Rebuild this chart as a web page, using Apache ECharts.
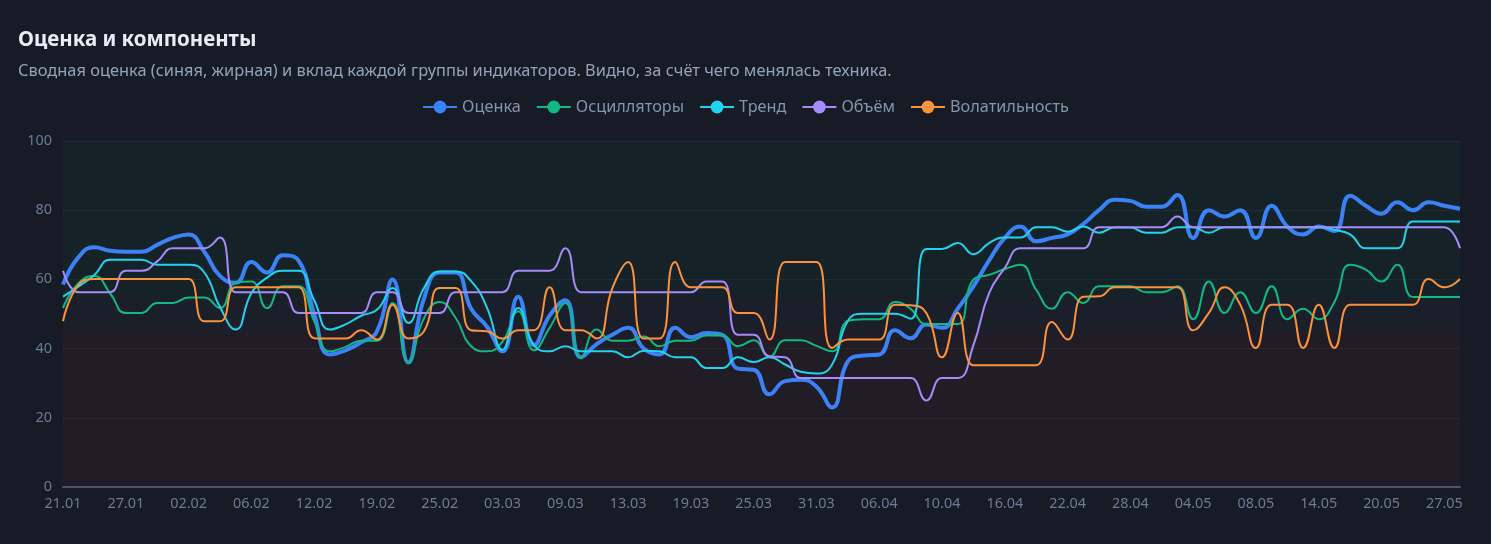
<!DOCTYPE html>
<html><head><meta charset="utf-8">
<script src="https://cdn.jsdelivr.net/npm/echarts@6/dist/echarts.min.js"></script>
<style>html,body{margin:0;padding:0;background:#161b25;}#c{width:1491px;height:544px;}</style>
</head><body><div id="c"></div>
<script>
var dates = ["21.01","22.01","23.01","26.01","27.01","28.01","29.01","30.01","02.02","03.02","04.02","05.02","06.02","09.02","10.02","11.02","12.02","13.02","16.02","17.02","19.02","20.02","23.02","24.02","25.02","26.02","27.02","02.03","03.03","04.03","05.03","06.03","09.03","10.03","11.03","12.03","13.03","16.03","17.03","18.03","19.03","20.03","23.03","24.03","25.03","26.03","27.03","30.03","31.03","01.04","02.04","03.04","06.04","07.04","08.04","09.04","10.04","13.04","14.04","15.04","16.04","17.04","20.04","21.04","22.04","23.04","24.04","27.04","28.04","29.04","30.04","01.05","04.05","05.05","06.05","07.05","08.05","11.05","12.05","13.05","14.05","15.05","18.05","19.05","20.05","21.05","22.05","25.05","27.05","28.05"];
var score = [58.5,66.5,69.3,68.3,68,68,70,72,73,68,61,59,65,62,67,65.5,50,38.3,39.5,41.8,45,60,36,54.5,62,62,51.5,46.4,39.2,55,41,49.5,54,37.5,41.3,44,46,40,38.3,46,43.3,44.5,44,34.2,33.9,26.8,30.6,31,29,23,36.3,38,38.3,45.3,43,47,46,51.5,58,65.5,72,75.3,71,72,73,76,80,83,82.7,81,81,84.4,72,80,78.2,80,72,81.3,75.3,73,75.3,74,84.2,81.3,79,82.3,80,82.3,81.3,80.4];
var osc = [51.7,59,61,56,50.3,50.3,53.2,53.2,54.8,54.8,51.7,59,59.4,51.7,58,58,48,39.2,40.5,42.3,42.3,53.2,35.9,48.8,53.5,49,40.7,39.2,42,50.8,39.5,46,53.2,37.3,45.5,42.3,42.3,43.5,40.7,42.3,42.3,43.8,43.8,40.7,42.4,37.6,42.4,42.4,40.8,39.2,48,48.5,48.5,53.5,51.5,47.1,47.1,47.1,59.9,61.3,63,64.2,57,51.5,56.3,53.2,58,58,58,56.3,56.3,58,48.5,59.4,50.3,56.3,50.3,58,48.5,51.5,48.5,53.5,64.2,62.8,59.4,64.2,54.9,54.9,54.9,54.9];
var trend = [55,58,61.3,65.7,65.7,65.7,64.2,64.2,64.2,62,52,45.5,56,60.5,62.5,62.5,54,45.5,47,49.5,51.2,57.5,47.4,57.5,62.3,62.3,59.5,52,39.7,51.7,41,39.2,40.7,39.2,39.2,39.2,37.5,39.4,39.2,37.5,37.5,34.4,34.4,37.5,36.1,37.5,35.4,33.3,32.8,35.4,48,50.1,50.1,50.1,48.6,68.8,68.8,70.5,67.3,70.5,72.1,72.1,75.1,75.1,73.8,75.3,73.5,75,75,73.5,73.5,75.1,75.1,73.5,75.1,75.1,75.1,75.1,75.1,75.1,75.1,74.3,73,69,69,69,76.7,76.7,76.7,76.7];
var volume = [62.5,56.3,56.3,56.3,62.5,62.5,65.2,69,69,69,72.1,56.3,56.3,56.3,56.3,50.3,50.3,50.3,50.3,50.3,56.3,56.3,50.3,50.3,50.3,56.3,56.3,56.3,56.3,62.5,62.5,62.5,69,56.3,56.3,56.3,56.3,56.3,56.3,56.3,56.3,59.4,59.4,44,44,37.8,37.5,31.5,31.5,31.5,31.5,31.5,31.5,31.5,31.5,25,31.5,31.5,41,56,63.3,69,69,69,69,69,75.1,75.1,75.1,75.1,75.1,78.2,75.1,75.1,75.1,75.1,75.1,75.1,75.1,75.1,75.1,75.1,75.1,75.1,75.1,75.1,75.1,75.1,75.1,69];
var volat = [47.9,58.5,60.1,60.1,60.1,60.1,60.1,60.1,60.1,47.9,47.9,57.7,57.7,57.7,57.7,57.7,43,42.9,42.9,45.3,42.6,52.7,42.9,45,57.5,57.5,45.3,45,42.9,45.3,45.3,57.7,45.3,45.3,42.9,57.5,65,42.9,42.9,65,57.7,57.7,57.7,50.3,50.3,42.6,65,65,65,40.2,42.6,42.6,42.6,52.7,52.5,50.3,37.5,50.3,35.2,35.2,35.2,35.2,35.2,47.7,42.6,55,55.1,57.7,57.7,57.7,57.7,57.7,45.3,50.3,57.7,52.7,40.2,52.7,52.7,40.2,52.7,40.2,52.7,52.7,52.7,52.7,52.7,60.1,57.7,60.1];
var seriesNames = ["Оценка","Осцилляторы","Тренд","Объём","Волатильность"];
var colors = ["#3b82f6","#10b981","#22d3ee","#a78bfa","#fb923c"];
var yTicks = {min:0, max:100, interval:20};

var FONT = '"Noto Sans", sans-serif';
var chart = echarts.init(document.getElementById('c'), null, {renderer:'canvas'});
var values = [score, osc, trend, volume, volat];
var series = values.map(function(v, k){
  var s = {
    name: seriesNames[k], type:'line', data: v, smooth: true,
    symbol:'circle', symbolSize: 8, showSymbol:false,
    lineStyle:{width: k===0 ? 4 : 2, color: colors[k]},
    itemStyle:{color: colors[k]}
  };
  if (k===0) {
    s.markArea = {silent:true, data:[
      [{yAxis:55, itemStyle:{color:'rgba(16,185,129,0.055)'}},{yAxis:100}],
      [{yAxis:45, itemStyle:{color:'rgba(148,163,184,0.04)'}},{yAxis:55}],
      [{yAxis:0, itemStyle:{color:'rgba(239,68,68,0.055)'}},{yAxis:45}]
    ]};
  }
  return s;
});
chart.setOption({
  backgroundColor:'#161b25',
  animation:false,
  textStyle:{fontFamily:FONT},
  title:{
    left:18, top:30, padding:0, itemGap:12,
    text:'Оценка и компоненты',
    subtext:'Сводная оценка (синяя, жирная) и вклад каждой группы индикаторов. Видно, за счёт чего менялась техника.',
    textStyle:{fontFamily:FONT, fontSize:20.5, fontWeight:'bold', color:'#e6edf5'},
    subtextStyle:{fontFamily:FONT, fontSize:16.4, color:'#94a3b8'}
  },
  legend:{
    top:99, left:'center', padding:0, itemWidth:34, itemHeight:16, itemGap:15,
    textStyle:{fontFamily:FONT, fontSize:16.3, color:'#8494ab'},
    data: seriesNames
  },
  color: colors,
  grid:{left:63, right:31, top:141, bottom:57, containLabel:false},
  xAxis:{
    type:'category', data: dates, boundaryGap:false,
    axisLine:{lineStyle:{color:'#4b5568', width:2}},
    axisTick:{show:false},
    axisLabel:{interval:3, color:'#6b7b93', fontSize:14.4, margin:10, fontFamily:FONT},
    splitLine:{show:false}
  },
  yAxis:{
    type:'value', min:yTicks.min, max:yTicks.max, interval:yTicks.interval,
    axisLine:{show:false}, axisTick:{show:false},
    axisLabel:{color:'#6b7b93', fontSize:14.4, margin:11, fontFamily:FONT},
    splitLine:{lineStyle:{color:'rgba(255,255,255,0.05)', width:1}}
  },
  series: series
});
</script></body></html>
